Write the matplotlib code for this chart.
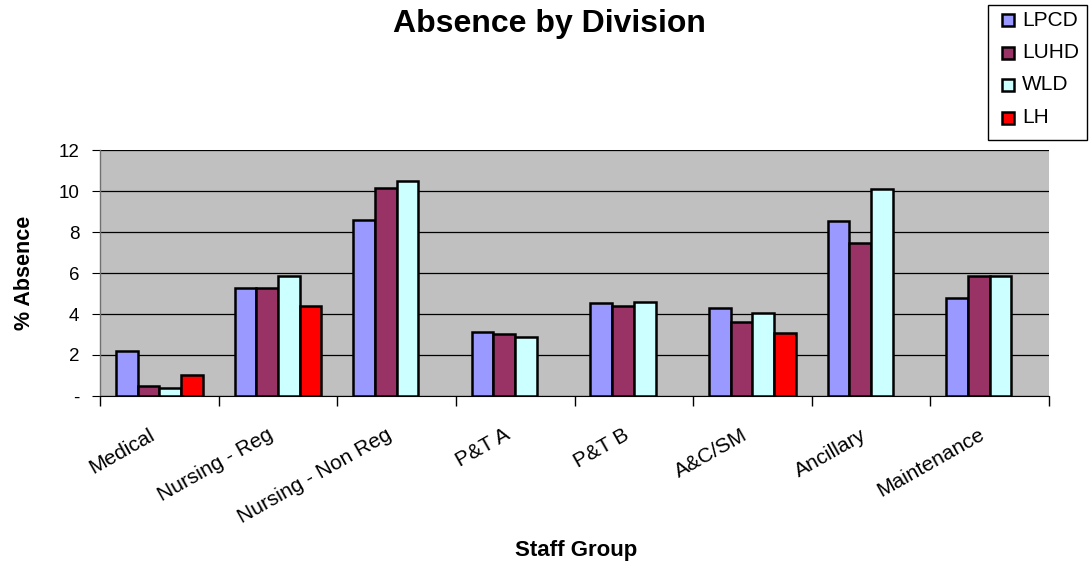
import numpy as np
import matplotlib
matplotlib.use("Agg")
import matplotlib.pyplot as plt
from matplotlib.patches import Rectangle

plt.rcParams['font.family'] = ['Liberation Sans', 'DejaVu Sans']

categories = ["Medical", "Nursing - Reg", "Nursing - Non Reg", "P&T A",
              "P&T B", "A&C/SM", "Ancillary", "Maintenance"]
series_names = ["LPCD", "LUHD", "WLD", "LH"]
lpcd = [2.2, 5.25, 8.57, 3.14, 4.54, 4.29, 8.54, 4.77]
luhd = [0.5, 5.28, 10.13, 3.04, 4.41, 3.63, 7.46, 5.84]
wld = [0.37, 5.87, 10.5, 2.86, 4.6, 4.05, 10.08, 5.87]
lh = [1.02, 4.4, np.nan, np.nan, np.nan, 3.09, np.nan, np.nan]
y_ticks = [0, 2, 4, 6, 8, 10, 12]
y_tick_labels = ["-", "2", "4", "6", "8", "10", "12"]

colors = ["#9999FF", "#993366", "#CCFFFF", "#FF0000"]
series = [lpcd, luhd, wld, lh]

W, H = 1092, 567
fig = plt.figure(figsize=(W / 100, H / 100), dpi=100)
ax = fig.add_axes([0.0916, 0.3016, 0.8690, 0.4338])
ax.set_facecolor("#C0C0C0")

n = len(categories)
x = np.arange(n) + 0.5
bar_w = 0.183
for i, (vals, col, name) in enumerate(zip(series, colors, series_names)):
    offs = (i - 1.5) * bar_w
    v = np.array(vals, dtype=float)
    mask = ~np.isnan(v)
    ax.bar(x[mask] + offs, v[mask], width=bar_w, color=col,
           edgecolor="black", linewidth=1.8, zorder=3, label=name)

ax.set_xlim(0, n)
ax.set_ylim(0, 12)
ax.set_yticks(y_ticks)
ax.set_yticklabels(y_tick_labels, fontsize=13.5)
ax.yaxis.grid(True, color="black", linewidth=0.9, zorder=0)
ax.set_axisbelow(True)

# category boundaries carry the visible ticks; names sit on hidden ticks
ax.set_xticks(np.arange(n + 1))
ax.set_xticklabels([])
ax.set_xticks(x - 0.095, minor=True)
ax.set_xticklabels(categories, minor=True, rotation=29.5, ha="right", va="top",
                   rotation_mode="anchor", fontsize=15)
ax.tick_params(axis="x", which="minor", length=0, pad=21)
ax.tick_params(axis="x", which="major", length=7, direction="out",
               color="black", width=1.0)
ax.tick_params(axis="y", length=6, direction="out", pad=9, color="black")

for side in ["top", "right"]:
    ax.spines[side].set_visible(False)
ax.spines["left"].set_color("#707070")
ax.spines["bottom"].set_color("black")
ax.spines["left"].set_linewidth(1.0)

ax.set_ylabel("% Absence", fontsize=15.5, fontweight="bold", labelpad=17)
fig.text(0.528, 0.029, "Staff Group", ha="center", va="center",
         fontsize=16, fontweight="bold")
fig.text(0.5035, 0.958, "Absence by Division", ha="center", va="center",
         fontsize=23, fontweight="bold")

# Legend box drawn in figure pixel positions
def fx(px):
    return px / W

def fy(py):
    return 1 - py / H

fig.patches.append(Rectangle((fx(988), fy(140)), fx(1087) - fx(988),
                             fy(5) - fy(140), transform=fig.transFigure,
                             facecolor="white", edgecolor="black",
                             linewidth=1.0, zorder=5))
row_y = [20, 52.5, 85, 117.5]
for ry, col, name in zip(row_y, colors, series_names):
    fig.patches.append(Rectangle((fx(1002), fy(ry + 6)), fx(12), 12 / H,
                                 transform=fig.transFigure, facecolor=col,
                                 edgecolor="black", linewidth=1.8, zorder=6))
    fig.text(fx(1022), fy(ry), name, ha="left", va="center",
             fontsize=15, zorder=7)

fig.savefig("out.png", dpi=100)
